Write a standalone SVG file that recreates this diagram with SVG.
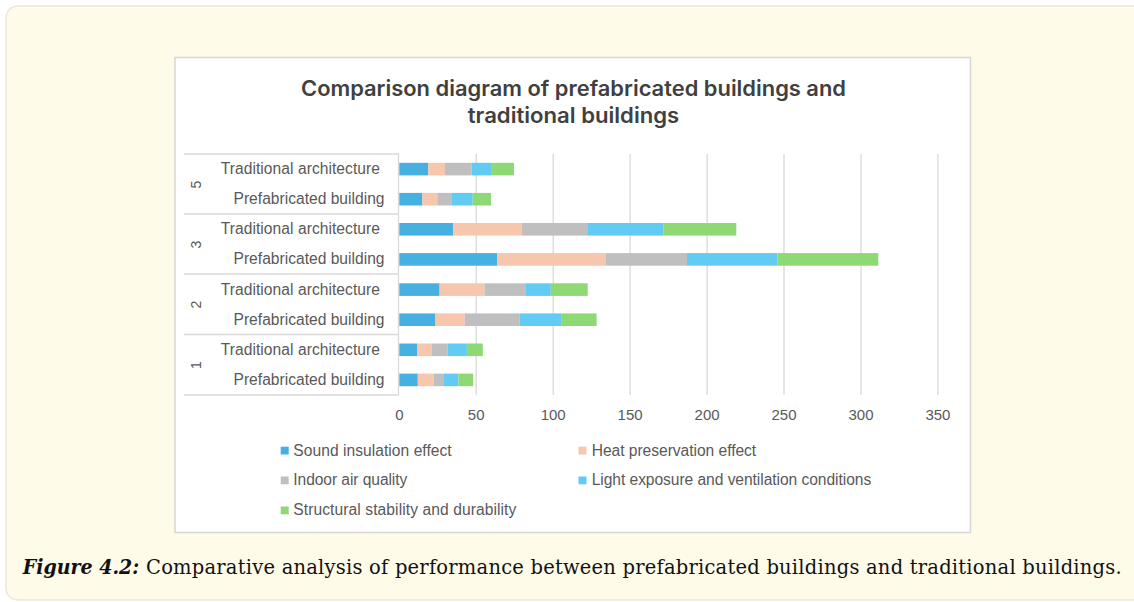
<svg xmlns="http://www.w3.org/2000/svg" width="1134" height="602" viewBox="0 0 1134 602">
<style>
.lbl{font-family:"Liberation Sans",Arial,sans-serif;font-size:15.6px;fill:#595959}
.ax{font-family:"Liberation Sans",Arial,sans-serif;font-size:15px;fill:#595959;text-anchor:middle}
.grid{stroke:#d9d9d9;stroke-width:1.3}
.sep{stroke:#d9d9d9;stroke-width:1.3}
.s1{fill:#46B1E1}.s2{fill:#F6C6AD}.s3{fill:#BFBFBF}.s4{fill:#61CBF3}.s5{fill:#8ED973}
.title{font-family:Inter,"Liberation Sans",sans-serif;font-weight:600;font-size:21px;fill:#404040;text-anchor:middle}
.cap{font-family:"DejaVu Serif","Liberation Serif",serif;font-size:19.5px;fill:#111}
</style>
<rect x="6" y="6" width="1140" height="594" rx="12" fill="#fffbe9" stroke="#ece8d8" stroke-width="1.5"/>
<g id="chart">
<rect x="175" y="57.5" width="795.5" height="475" fill="#ffffff" stroke="#d6d6d6" stroke-width="1.5"/>
<g id="title">
<text class="title" x="573.5" y="96" textLength="545" lengthAdjust="spacingAndGlyphs">Comparison diagram of prefabricated buildings and</text>
<text class="title" x="573.5" y="123" textLength="211.5" lengthAdjust="spacingAndGlyphs">traditional buildings</text>
</g>
<g id="gridlines">
<line class="grid" x1="476.2" y1="154" x2="476.2" y2="395"/>
<line class="grid" x1="553.2" y1="154" x2="553.2" y2="395"/>
<line class="grid" x1="630.1" y1="154" x2="630.1" y2="395"/>
<line class="grid" x1="707.1" y1="154" x2="707.1" y2="395"/>
<line class="grid" x1="784.0" y1="154" x2="784.0" y2="395"/>
<line class="grid" x1="861.0" y1="154" x2="861.0" y2="395"/>
<line class="grid" x1="937.9" y1="154" x2="937.9" y2="395"/>
</g>
<g id="category-axis">
<line class="sep" x1="398.5" y1="153.5" x2="398.5" y2="395.5"/>
<line class="sep" x1="184" y1="154" x2="398.5" y2="154"/>
<line class="sep" x1="184" y1="214" x2="398.5" y2="214"/>
<line class="sep" x1="184" y1="274" x2="398.5" y2="274"/>
<line class="sep" x1="184" y1="334.5" x2="398.5" y2="334.5"/>
<line class="sep" x1="184" y1="395" x2="398.5" y2="395"/>
<text class="lbl" transform="translate(201,184.5) rotate(-90)" text-anchor="middle" style="font-size:14px">5</text>
<text class="lbl" transform="translate(201,244.5) rotate(-90)" text-anchor="middle" style="font-size:14px">3</text>
<text class="lbl" transform="translate(201,304.5) rotate(-90)" text-anchor="middle" style="font-size:14px">2</text>
<text class="lbl" transform="translate(201,365) rotate(-90)" text-anchor="middle" style="font-size:14px">1</text>
<text class="lbl" x="380" y="174" text-anchor="end" textLength="159.3">Traditional architecture</text>
<text class="lbl" x="384.5" y="204.2" text-anchor="end" textLength="151">Prefabricated building</text>
<text class="lbl" x="380" y="234.3" text-anchor="end" textLength="159.3">Traditional architecture</text>
<text class="lbl" x="384.5" y="264.4" text-anchor="end" textLength="151">Prefabricated building</text>
<text class="lbl" x="380" y="294.6" text-anchor="end" textLength="159.3">Traditional architecture</text>
<text class="lbl" x="384.5" y="324.7" text-anchor="end" textLength="151">Prefabricated building</text>
<text class="lbl" x="380" y="354.8" text-anchor="end" textLength="159.3">Traditional architecture</text>
<text class="lbl" x="384.5" y="384.9" text-anchor="end" textLength="151">Prefabricated building</text>
</g>
<g id="bars">
<g id="bar-5-traditional">
<rect class="s1" x="399.3" y="162.8" width="29" height="12.6"/>
<rect class="s2" x="428.3" y="162.8" width="16.7" height="12.6"/>
<rect class="s3" x="445" y="162.8" width="26.7" height="12.6"/>
<rect class="s4" x="471.7" y="162.8" width="19.3" height="12.6"/>
<rect class="s5" x="491" y="162.8" width="23" height="12.6"/>
</g>
<g id="bar-5-prefabricated">
<rect class="s1" x="399.3" y="192.9" width="23" height="12.6"/>
<rect class="s2" x="422.3" y="192.9" width="15" height="12.6"/>
<rect class="s3" x="437.3" y="192.9" width="14" height="12.6"/>
<rect class="s4" x="451.3" y="192.9" width="21.4" height="12.6"/>
<rect class="s5" x="472.7" y="192.9" width="18.3" height="12.6"/>
</g>
<g id="bar-3-traditional">
<rect class="s1" x="399.3" y="223" width="54" height="12.6"/>
<rect class="s2" x="453.3" y="223" width="68.7" height="12.6"/>
<rect class="s3" x="522" y="223" width="66" height="12.6"/>
<rect class="s4" x="588" y="223" width="75.7" height="12.6"/>
<rect class="s5" x="663.7" y="223" width="72.6" height="12.6"/>
</g>
<g id="bar-3-prefabricated">
<rect class="s1" x="399.3" y="253.1" width="98" height="12.6"/>
<rect class="s2" x="497.3" y="253.1" width="108.7" height="12.6"/>
<rect class="s3" x="606" y="253.1" width="81" height="12.6"/>
<rect class="s4" x="687" y="253.1" width="90.7" height="12.6"/>
<rect class="s5" x="777.7" y="253.1" width="100.6" height="12.6"/>
</g>
<g id="bar-2-traditional">
<rect class="s1" x="399.3" y="283.3" width="40.3" height="12.6"/>
<rect class="s2" x="439.6" y="283.3" width="45" height="12.6"/>
<rect class="s3" x="484.6" y="283.3" width="41.4" height="12.6"/>
<rect class="s4" x="526" y="283.3" width="24.8" height="12.6"/>
<rect class="s5" x="550.8" y="283.3" width="36.9" height="12.6"/>
</g>
<g id="bar-2-prefabricated">
<rect class="s1" x="399.3" y="313.4" width="36.2" height="12.6"/>
<rect class="s2" x="435.5" y="313.4" width="29.2" height="12.6"/>
<rect class="s3" x="464.7" y="313.4" width="55" height="12.6"/>
<rect class="s4" x="519.7" y="313.4" width="41.4" height="12.6"/>
<rect class="s5" x="561.1" y="313.4" width="35.5" height="12.6"/>
</g>
<g id="bar-1-traditional">
<rect class="s1" x="399.3" y="343.5" width="17.7" height="12.6"/>
<rect class="s2" x="417" y="343.5" width="14.8" height="12.6"/>
<rect class="s3" x="431.8" y="343.5" width="15.9" height="12.6"/>
<rect class="s4" x="447.7" y="343.5" width="19.2" height="12.6"/>
<rect class="s5" x="466.9" y="343.5" width="15.9" height="12.6"/>
</g>
<g id="bar-1-prefabricated">
<rect class="s1" x="399.3" y="373.6" width="18.5" height="12.6"/>
<rect class="s2" x="417.8" y="373.6" width="15.9" height="12.6"/>
<rect class="s3" x="433.7" y="373.6" width="10.3" height="12.6"/>
<rect class="s4" x="444" y="373.6" width="14.4" height="12.6"/>
<rect class="s5" x="458.4" y="373.6" width="14.8" height="12.6"/>
</g>
</g>
<g id="value-axis">
<text class="ax" x="399.3" y="420">0</text>
<text class="ax" x="476.2" y="420">50</text>
<text class="ax" x="553.2" y="420">100</text>
<text class="ax" x="630.1" y="420">150</text>
<text class="ax" x="707.1" y="420">200</text>
<text class="ax" x="784.0" y="420">250</text>
<text class="ax" x="861.0" y="420">300</text>
<text class="ax" x="937.9" y="420">350</text>
</g>
<g id="legend">
<g id="legend-sound"><rect class="s1" x="280.7" y="446.7" width="8" height="7.8"/><text class="lbl" x="293.3" y="455.5" textLength="158.4">Sound insulation effect</text></g>
<g id="legend-heat"><rect class="s2" x="578.5" y="446.7" width="8" height="7.8"/><text class="lbl" x="591.7" y="455.5" textLength="164.5">Heat preservation effect</text></g>
<g id="legend-air"><rect class="s3" x="280.7" y="476.5" width="8" height="7.8"/><text class="lbl" x="293.3" y="485.3" textLength="114">Indoor air quality</text></g>
<g id="legend-light"><rect class="s4" x="578.5" y="476.5" width="8" height="7.8"/><text class="lbl" x="591.7" y="485.3" textLength="279.5">Light exposure and ventilation conditions</text></g>
<g id="legend-structural"><rect class="s5" x="280.7" y="506.5" width="8" height="7.8"/><text class="lbl" x="293.3" y="515.3" textLength="223">Structural stability and durability</text></g>
</g>
</g>
<g id="caption">
<text class="cap" x="22.7" y="574" font-weight="bold" font-style="italic" textLength="116.6" lengthAdjust="spacingAndGlyphs">Figure 4.2:</text>
<text class="cap" x="146" y="574" textLength="975.7">Comparative analysis of performance between prefabricated buildings and traditional buildings.</text>
</g>
</svg>
